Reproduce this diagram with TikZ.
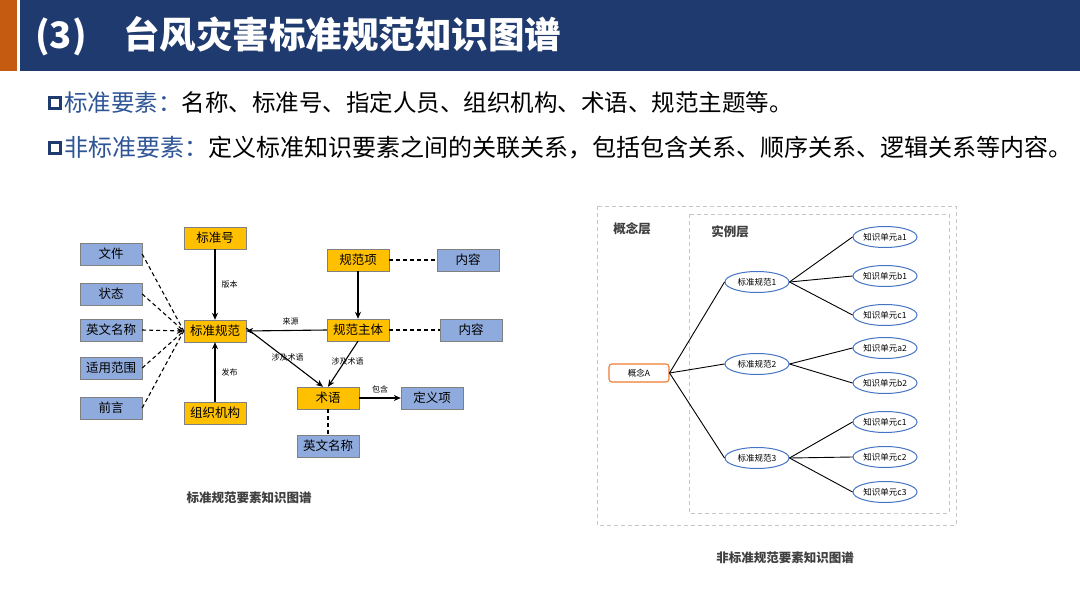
\documentclass[tikz,border=0pt]{standalone}
\usepackage{fontspec}
\setmainfont{Noto Sans CJK SC}
\usetikzlibrary{arrows.meta,shapes.geometric}
\definecolor{HeadNavy}{HTML}{1F3A6E}
\definecolor{HeadOrange}{HTML}{C55A11}
\definecolor{TagBlue}{HTML}{2F5597}
\definecolor{BoxGold}{HTML}{FFC000}
\definecolor{BoxBlue}{HTML}{8FAADC}
\definecolor{RingBlue}{HTML}{4472C4}
\definecolor{ConceptOrange}{HTML}{ED7D31}
\definecolor{CapGray}{HTML}{404040}
\tikzset{gbox/.style={draw=gray,fill=BoxGold,minimum width=62,minimum height=22,inner sep=0,font=\fontsize{12.5}{14}\selectfont},
bbox/.style={gbox,fill=BoxBlue},
lbl/.style={inner sep=1,font=\fontsize{8}{9}\selectfont},
arr/.style={-{Stealth[length=7pt,width=6pt]},line width=1.1},
dline/.style={line width=1.1,dash pattern=on 4pt off 3pt},
inst/.style={ellipse,draw=RingBlue,line width=1,fill=white,minimum width=64,minimum height=21,inner sep=0,font=\fontsize{8.5}{9}\selectfont},
figcap/.style={text=CapGray,font=\fontsize{12.5}{14}\selectfont\bfseries},
layer/.style={draw=gray!45,line width=0.8,dash pattern=on 4pt off 3pt}}

\begin{document}
\begin{tikzpicture}[x=1pt,y=-1pt]
\useasboundingbox (0,0) rectangle (1080,608);
\fill[white] (0,0) rectangle (1080,608);
% header
\fill[HeadOrange] (0,0) rectangle (17,71);
\fill[HeadNavy] (20,0) rectangle (1080,71);
\node[anchor=west,inner sep=0,text=white,font=\fontsize{36.5}{40}\selectfont\bfseries] (title) at (35,36) {(3)\hspace{1em}台风灾害标准规范知识图谱};
\node[draw=HeadNavy,line width=2.6,minimum size=11,inner sep=0] (sq1) at (55,103) {};
\node[anchor=west,inner sep=0,font=\fontsize{23.5}{26}\selectfont] (std) at (64,103) {\textcolor{TagBlue}{标准要素：}名称、标准号、指定人员、组织机构、术语、规范主题等。};
\node[draw=HeadNavy,line width=2.6,minimum size=11,inner sep=0] (sq2) at (55,148) {};
\node[anchor=west,inner sep=0,font=\fontsize{24}{26}\selectfont] (nstd) at (64,148) {\textcolor{TagBlue}{非标准要素：}定义标准知识要素之间的关联关系，包括包含关系、顺序关系、逻辑关系等内容。};

% standard elements graph
\node[bbox] (file) at (111,254) {文件};
\node[bbox] (state) at (111,294) {状态};
\node[bbox] (ename) at (111,330) {英文名称};
\node[bbox] (scope) at (111,368) {适用范围};
\node[bbox] (preface) at (111,408) {前言};
\node[gbox] (stdno) at (215,238) {标准号};
\node[gbox] (stdspec) at (215,331) {标准规范};
\node[gbox] (org) at (215,413) {组织机构};
\node[gbox] (item) at (358,260) {规范项};
\node[gbox] (body) at (358,330) {规范主体};
\node[gbox] (term) at (328,398) {术语};
\node[bbox] (cont1) at (468,260) {内容};
\node[bbox] (cont2) at (471,330) {内容};
\node[bbox] (defi) at (432,398) {定义项};
\node[bbox] (tname) at (328,446) {英文名称};
\draw[dline] (file.east) -- (stdspec.west);
\draw[dline] (state.east) -- (stdspec.west);
\draw[dline,-{Stealth[length=7pt,width=6pt]}] (ename.east) -- (stdspec.west);
\draw[dline] (scope.east) -- (stdspec.west);
\draw[dline] (preface.east) -- (stdspec.west);
\draw[arr] (stdno) -- node[lbl,right=5pt] {版本} (stdspec);
\draw[arr] (org) -- node[lbl,right=5pt] {发布} (stdspec);
\draw[arr] (item) -- (body);
\draw[arr] (body.west) -- node[lbl,above=4pt,pos=0.45] {来源} (stdspec.east);
\draw[arr] ([yshift=3]stdspec.east) -- node[lbl,pos=0.5,xshift=3pt] {涉及术语} ([xshift=-5]term.north);
\draw[arr] (body.south) -- node[lbl,pos=0.45,xshift=3pt] {涉及术语} ([xshift=0]term.north);
\draw[arr] (term) -- node[lbl,above=3pt] {包含} (defi);
\draw[dline] (item) -- (cont1);
\draw[dline] (body) -- (cont2);
\draw[dline] (term) -- (tname);
\node[figcap] (cap1) at (249,498) {标准规范要素知识图谱};

% non-standard elements graph
\draw[layer] (597,206) rectangle (956,525);
\draw[layer] (689,214) rectangle (949,513);
\node[font=\fontsize{12.5}{14}\selectfont\bfseries,text=CapGray] (lyc) at (632,229) {概念层};
\node[font=\fontsize{12.5}{14}\selectfont\bfseries,text=CapGray] (lyi) at (730,232) {实例层};
\node[draw=ConceptOrange,line width=1.1,rounded corners=3,fill=white,minimum width=60,minimum height=18,inner sep=0,font=\fontsize{8.5}{9}\selectfont] (concept) at (639,373) {概念A};
\node[inst] (s1) at (757,282) {标准规范1};
\node[inst] (s2) at (757,364) {标准规范2};
\node[inst] (s3) at (757,458) {标准规范3};
\node[inst] (a1) at (885,237) {知识单元a1};
\node[inst] (b1) at (885,276) {知识单元b1};
\node[inst] (c1) at (885,315) {知识单元c1};
\node[inst] (a2) at (885,348) {知识单元a2};
\node[inst] (b2) at (885,383) {知识单元b2};
\node[inst] (c1b) at (885,422) {知识单元c1};
\node[inst] (c2) at (885,457) {知识单元c2};
\node[inst] (c3) at (885,492) {知识单元c3};
\foreach \s in {s1,s2,s3} \draw[line width=0.9] (concept.east) -- (\s.west);
\foreach \k in {a1,b1,c1} \draw[line width=0.9] (s1.east) -- (\k.west);
\foreach \k in {a2,b2} \draw[line width=0.9] (s2.east) -- (\k.west);
\foreach \k in {c1b,c2,c3} \draw[line width=0.9] (s3.east) -- (\k.west);
\node[figcap] (cap2) at (785,558) {非标准规范要素知识图谱};
\end{tikzpicture}
\end{document}
